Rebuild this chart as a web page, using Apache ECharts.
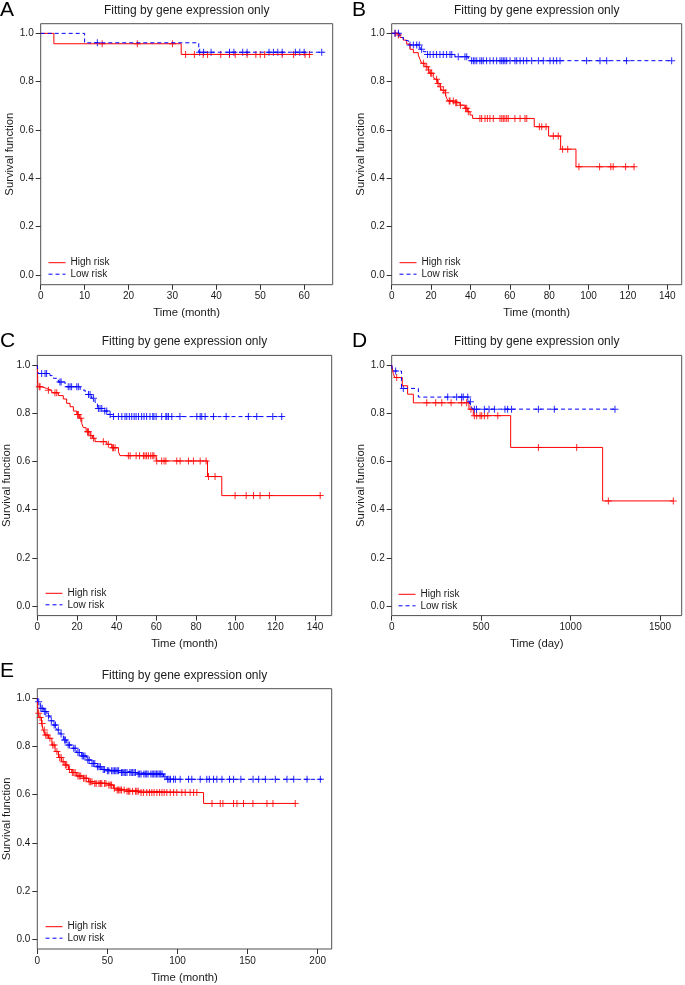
<!DOCTYPE html>
<html>
<head>
<meta charset="utf-8">
<script src="https://cdn.jsdelivr.net/npm/echarts@6/dist/echarts.min.js"></script>
<style>
  html, body { margin: 0; padding: 0; background: #fff; }
  #chart { width: 685px; height: 985px; }
</style>
</head>
<body>
<div id="chart"></div>
<script>
// tick labels
const yTicks = [0, 0.2, 0.4, 0.6, 0.8, 1.0];
const aXTicks = [0, 10, 20, 30, 40, 50, 60];
const bXTicks = [0, 20, 40, 60, 80, 100, 120, 140];
const cXTicks = [0, 20, 40, 60, 80, 100, 120, 140];
const dXTicks = [0, 500, 1000, 1500];
const eXTicks = [0, 50, 100, 150, 200];

// A: step times / survival / censored times
const aHighT = [0, 3, 32, 61.5];
const aHighS = [1, 0.957, 0.913, 0.913];
const aHighC = [14, 22, 30, 33, 35, 37, 38, 41, 43, 44.3, 47, 49, 50, 51, 55, 57.6, 60.2, 61.2];
const aLowT = [0, 10, 36, 64.4];
const aLowS = [1, 0.961, 0.922, 0.922];
const aLowC = [12.9, 36.2, 37.1, 38.8, 43, 44, 46, 47, 52, 53, 54, 55, 58, 59, 60, 64];

// B
const bHighT = [0, 2.5, 4.2, 5.9, 7.6, 9.3, 11.0, 13.5, 14.4, 15.2, 16.9, 18.6, 19.5, 21.1, 22.0, 23.2, 24.5, 25.4, 27.1, 27.9, 28.8, 32.1, 34.7, 37.2, 38.4, 39.8, 41.1, 72.4, 79.7, 85.8, 93.6, 123.3];
const bHighS = [1, 0.993, 0.983, 0.972, 0.956, 0.934, 0.920, 0.910, 0.892, 0.876, 0.862, 0.848, 0.835, 0.820, 0.810, 0.793, 0.779, 0.765, 0.754, 0.731, 0.720, 0.713, 0.703, 0.690, 0.676, 0.662, 0.648, 0.614, 0.575, 0.521, 0.448, 0.448];
const bHighC = [1.7, 3.4, 16.1, 17.8, 18.8, 19.8, 20.3, 22.8, 23.6, 24.8, 26.2, 27.4, 29.2, 29.6, 31.3, 32.5, 33.0, 34.9, 37.5, 38.1, 38.9, 44.8, 45.7, 47.4, 48.6, 49.9, 51.6, 55.0, 55.9, 56.7, 57.5, 58.4, 59.2, 62.6, 65.2, 67.7, 68.6, 75.0, 76.2, 78.4, 82.1, 84.6, 86.8, 89.4, 95.1, 105.6, 111.3, 112.5, 118.8, 123.1];
const bLowT = [0, 4.2, 5.9, 8.5, 14.4, 16.1, 17.8, 32.1, 38.9, 142.2];
const bLowS = [1, 0.983, 0.97, 0.952, 0.934, 0.924, 0.913, 0.903, 0.887, 0.887];
const bLowC = [1.7, 3.4, 9.3, 11.0, 12.7, 14.0, 15.2, 18.2, 19.5, 21.1, 22.8, 24.5, 26.2, 27.9, 29.6, 30.5, 33.8, 37.2, 38.1, 40.6, 41.5, 42.3, 43.2, 44.8, 45.7, 46.5, 48.2, 49.9, 51.6, 53.3, 55.0, 55.9, 56.7, 57.5, 58.4, 60.1, 62.6, 63.5, 65.2, 66.9, 68.6, 71.1, 74.5, 77.0, 80.4, 82.1, 83.8, 85.5, 99.0, 105.8, 109.2, 119.3, 142.2];

// C
const cHighT = [0, 0.3, 2.2, 4.7, 7.3, 10.6, 13.1, 14.8, 16.5, 18.2, 19.9, 21.2, 22.4, 23.2, 24.6, 26.6, 27.9, 29.1, 35, 37.5, 40.9, 41.7, 59.9, 85.8, 93, 142.9];
const cHighS = [1, 0.91, 0.903, 0.895, 0.885, 0.873, 0.859, 0.841, 0.827, 0.809, 0.795, 0.779, 0.758, 0.74, 0.723, 0.707, 0.696, 0.682, 0.671, 0.657, 0.64, 0.624, 0.602, 0.537, 0.458, 0.458];
const cHighC = [1.0, 1.4, 5.6, 8.9, 9.8, 20.3, 20.7, 21.9, 25.3, 25.8, 27.0, 28.3, 33.3, 35.8, 38.0, 38.4, 39.2, 45.9, 46.8, 49.8, 51.5, 53.5, 54.3, 55.1, 56.0, 57.2, 58.2, 58.8, 60.2, 62.7, 63.9, 64.8, 70.3, 72.0, 76.2, 78.7, 82.1, 85.1, 86.3, 89.6, 99.7, 105.3, 109.0, 112.3, 117.0, 142.6];
const cLowT = [0, 0.4, 6.4, 8.1, 10.6, 14.0, 21.6, 24.1, 27.4, 29.1, 30.3, 33.3, 35.8, 37.5, 123.7];
const cLowS = [1, 0.965, 0.956, 0.945, 0.93, 0.91, 0.896, 0.878, 0.862, 0.845, 0.82, 0.809, 0.795, 0.786, 0.786];
const cLowC = [2.2, 3.9, 4.7, 11.4, 12.0, 15.6, 16.5, 17.3, 19.9, 20.7, 25.8, 26.6, 28.3, 30.8, 31.6, 32.5, 34.0, 35.0, 36.7, 38.4, 40.9, 42.6, 44.2, 45.1, 46.4, 47.6, 48.8, 49.8, 51.0, 52.6, 53.8, 55.1, 56.8, 58.2, 58.8, 59.9, 62.7, 64.8, 65.3, 66.1, 67.8, 71.9, 80.4, 82.1, 82.9, 84.6, 88.8, 95.2, 106.4, 110.6, 118.7, 123.2];

// D (days)
const dHighT = [0, 9, 17, 59, 89, 121, 432, 456, 665, 1179, 1574];
const dHighS = [1, 0.965, 0.948, 0.914, 0.879, 0.843, 0.817, 0.79, 0.658, 0.436, 0.436];
const dHighC = [28, 196, 246, 280, 332, 391, 419, 443, 462, 475, 494, 503, 518, 537, 593, 820, 1034, 1211, 1574];
const dLowT = [0, 4, 55, 149, 432, 443, 452, 1257];
const dLowS = [1, 0.975, 0.903, 0.867, 0.848, 0.83, 0.817, 0.817];
const dLowC = [22, 65, 313, 363, 391, 400, 425, 440, 462, 474, 518, 544, 574, 633, 648, 670, 820, 909, 1248];

// E
const eHighT = [0, 0.5, 1.4, 3, 4.2, 5.5, 8, 10.4, 12.7, 15.1, 17.4, 19.8, 22.2, 24.6, 28.1, 32.9, 36.5, 40, 50.8, 54.3, 56.7, 63.8, 73.4, 118.6, 184.1];
const eHighS = [1, 0.938, 0.921, 0.896, 0.869, 0.848, 0.834, 0.806, 0.779, 0.755, 0.737, 0.723, 0.705, 0.692, 0.678, 0.668, 0.654, 0.647, 0.64, 0.627, 0.62, 0.615, 0.609, 0.564, 0.564];
const eHighC = [1, 2, 3.5, 5, 6, 7, 9, 11, 12, 14, 16, 17, 18.5, 20, 21, 23, 25, 26, 27, 29, 30, 31, 33, 34, 35, 37, 38, 39, 41, 42, 44, 45, 46, 48, 49, 51, 52, 53, 55, 57, 58, 59, 60, 62, 64, 65, 66, 68, 70, 71, 72, 74, 75.7, 78.1, 80, 81.7, 83.3, 85.3, 87.2, 88.9, 90.5, 92.4, 94.8, 97.2, 99.5, 103.1, 105.5, 109, 111.5, 113.8, 124.6, 130.5, 132.4, 140, 142.4, 147.1, 153.8, 163.8, 168.1, 184];
const eLowT = [0, 0.3, 2.1, 4.5, 6.9, 9.1, 11.5, 13.9, 16.2, 18.6, 21, 24.6, 28.1, 31.7, 35.3, 38.8, 42.4, 46, 49.6, 59.1, 71, 90, 92.4, 203.1];
const eLowS = [1, 0.986, 0.959, 0.945, 0.927, 0.907, 0.889, 0.869, 0.852, 0.827, 0.806, 0.793, 0.775, 0.761, 0.744, 0.73, 0.716, 0.705, 0.7, 0.692, 0.686, 0.675, 0.664, 0.664];
const eLowC = [1, 2.5, 3.5, 5, 6, 8, 10, 12, 13, 15, 17, 19.5, 20, 22, 23, 26, 27, 29, 30, 32, 33, 34, 36, 37, 39, 40, 41, 43, 44, 45, 47, 48, 50, 51, 53, 54, 55, 56, 57, 58, 60, 61, 62, 63, 64, 66, 67, 68, 69, 70, 72, 73, 74, 76, 77, 78, 79, 81, 82, 83, 84, 85, 86, 87, 88, 89, 91, 93, 94, 95, 97.2, 98.5, 101.9, 107.9, 110.2, 116.2, 120.9, 122.7, 125.7, 128.1, 131.7, 137.1, 140, 145.2, 153.9, 157.9, 162.7, 169.8, 178.1, 182.9, 192.4, 201.9];

const FONT = '"Liberation Sans", Arial, sans-serif';
const RED = '#ff0000';
const BLUE = '#0000ff';
const TXT = '#1a1a1a';
const PLUS = 'path://M3,0H4V3H7V4H4V7H3V4H0V3H3Z';
const SUBTITLE = 'Fitting by gene expression only';

// survival value at time t (value of the step curve)
function survAt(times, surv, t) {
  let s = surv[0];
  for (let i = 0; i < times.length; i++) if (times[i] <= t) s = surv[i];
  return s;
}

const panels = [
  { letter: 'A', box: [40.7, 23.7, 292, 261], xMax: 66.5, ticks: aXTicks, xName: 'Time (month)',
    high: [aHighT, aHighS, aHighC], low: [aLowT, aLowS, aLowC], leg: [48, 257.7], titleTop: 4.5, letterTop: 0 },
  { letter: 'B', box: [391.7, 23.7, 290, 261], xMax: 147.3, ticks: bXTicks, xName: 'Time (month)',
    high: [bHighT, bHighS, bHighC], low: [bLowT, bLowS, bLowC], leg: [399, 257.7], titleTop: 4.5, letterTop: 0 },
  { letter: 'C', box: [37.3, 355.4, 294.4, 260.2], xMax: 148.4, ticks: cXTicks, xName: 'Time (month)',
    high: [cHighT, cHighS, cHighC], low: [cLowT, cLowS, cLowC], leg: [45, 588.3], titleTop: 335.5, letterTop: 331 },
  { letter: 'D', box: [391.7, 355.4, 290, 260.2], xMax: 1621, ticks: dXTicks, xName: 'Time (day)',
    high: [dHighT, dHighS, dHighC], low: [dLowT, dLowS, dLowC], leg: [398, 589.3], titleTop: 335.5, letterTop: 331 },
  { letter: 'E', box: [37.3, 688.7, 294.4, 260.3], xMax: 210, ticks: eXTicks, xName: 'Time (month)',
    high: [eHighT, eHighS, eHighC], low: [eLowT, eLowS, eLowC], leg: [45, 921.7], titleTop: 669.5, letterTop: 661 },
];

const grid = [], xAxis = [], yAxis = [], series = [], title = [], legend = [];

panels.forEach((p, i) => {
  const [left, top, width, height] = p.box;
  grid.push({ left, top, width, height, show: true, borderColor: '#505050', borderWidth: 1, backgroundColor: 'transparent' });

  xAxis.push({
    gridIndex: i, type: 'value', min: 0, max: p.xMax, position: 'bottom',
    axisLine: { show: false, onZero: false },
    axisTick: { show: true, inside: false, customValues: p.ticks, length: 5, lineStyle: { color: '#333' } },
    axisLabel: { customValues: p.ticks, fontSize: 10, color: TXT, margin: 7, fontFamily: FONT,
      formatter: (v) => String(v) },
    splitLine: { show: false },
    name: p.xName, nameLocation: 'middle', nameGap: 23,
    nameTextStyle: { fontSize: 11.3, color: TXT, fontFamily: FONT },
  });

  yAxis.push({
    gridIndex: i, type: 'value', min: -0.04, max: 1.04, position: 'left',
    axisLine: { show: false, onZero: false },
    axisTick: { show: true, inside: false, customValues: yTicks, length: 5, lineStyle: { color: '#333' } },
    axisLabel: { customValues: yTicks, fontSize: 10, color: TXT, margin: 7, fontFamily: FONT,
      formatter: (v) => v.toFixed(1) },
    splitLine: { show: false },
    name: 'Survival function', nameLocation: 'middle', nameGap: 25,
    nameTextStyle: { fontSize: 11.3, color: TXT, fontFamily: FONT },
  });

  const groups = [
    { name: 'High risk', d: p.high, color: RED, type: 'solid' },
    { name: 'Low risk', d: p.low, color: BLUE, type: [4, 3] },
  ];
  groups.forEach((g) => {
    const [T, S, C] = g.d;
    series.push({
      type: 'line', name: g.name, xAxisIndex: i, yAxisIndex: i,
      step: 'end', symbol: 'none', silent: true,
      data: T.map((t, k) => [t, S[k]]),
      lineStyle: { color: g.color, width: 1, type: g.type },
      itemStyle: { color: g.color },
    });
    series.push({
      type: 'scatter', name: g.name + ' censored', xAxisIndex: i, yAxisIndex: i,
      symbol: PLUS, symbolSize: 7, silent: true,
      data: C.map((t) => [t, survAt(T, S, t)]),
      itemStyle: { color: g.color, opacity: 0.85 },
    });
  });

  title.push({
    text: p.letter, left: 0 + (i % 2) * 352, top: p.letterTop, padding: 0,
    textStyle: { fontSize: 21, fontWeight: 'normal', color: '#000', fontFamily: FONT },
  });
  title.push({
    text: SUBTITLE, left: left + width / 2, textAlign: 'center', top: p.titleTop, padding: 0,
    textStyle: { fontSize: 12, fontWeight: 'normal', color: TXT, fontFamily: FONT },
  });

  legend.push({
    data: ['High risk', 'Low risk'], orient: 'vertical', left: p.leg[0], top: p.leg[1],
    padding: 0, itemGap: 1.5, itemWidth: 17, itemHeight: 10, selectedMode: false,
    itemStyle: { opacity: 0 },
    lineStyle: { width: 1 },
    textStyle: { fontSize: 10, color: TXT, fontFamily: FONT, padding: [0, 0, 0, 0] },
  });
});

const chart = echarts.init(document.getElementById('chart'), null, { renderer: 'canvas' });
chart.setOption({
  animation: false,
  backgroundColor: '#ffffff',
  textStyle: { fontFamily: FONT },
  title, legend, grid, xAxis, yAxis, series,
});
</script>
</body>
</html>
